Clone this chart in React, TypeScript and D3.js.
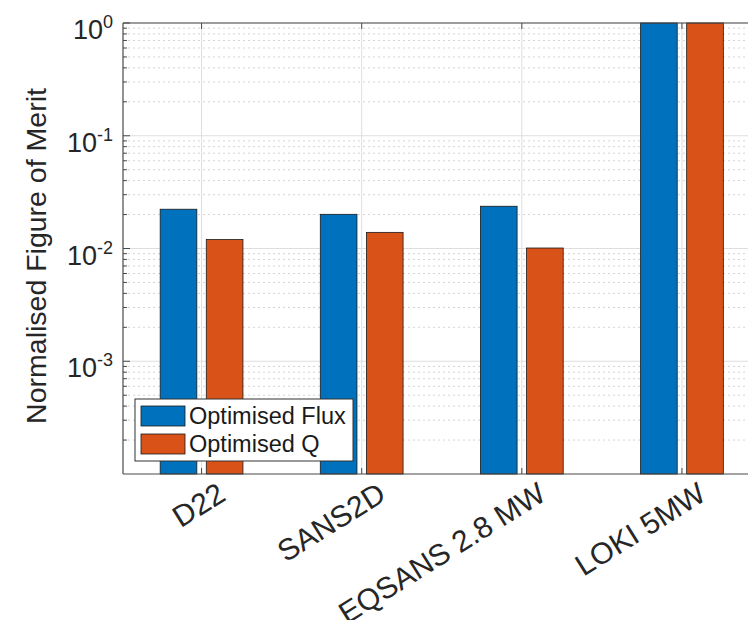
import React from 'react';
import * as d3 from 'd3';

// chart data
const categories = ['D22', 'SANS2D', 'EQSANS 2.8 MW', 'LOKI 5MW'];
const fluxValues = [0.0223, 0.0201, 0.0237, 1.0];
const qValues = [0.012, 0.0139, 0.0101, 1.0];
const seriesNames = ['Optimised Flux', 'Optimised Q'];
const seriesColors = ['#0072BD', '#D95319'];
const yTickExps = [0, -1, -2, -3];

const W = 748;
const H = 620;

const App = () => {
  // plot box
  const left = 123, top = 23, bottom = 474, right = 762;

  const x = d3.scaleLinear().domain([0.5, categories.length + 0.5]).range([left - 1.5, right]);
  const y = d3.scaleLog().domain([1e-4, 1]).range([bottom, top]);

  const barW = 0.229;
  const offset = 0.144;
  const series = [fluxValues, qValues];

  // minor grid values (2..9 of each decade)
  const minor: number[] = [];
  for (let e = -4; e < 0; e++) {
    for (let k = 2; k <= 9; k++) minor.push(k * Math.pow(10, e));
  }

  const axisColor = '#4a4a4a';
  const font = 'Liberation Sans, Arial, Helvetica, sans-serif';

  return (
    <svg width={W} height={H} style={{ position: 'absolute', left: 0, top: 0, background: '#fff' }}
      fontFamily={font}>
      {/* minor grid */}
      {minor.map((v, i) => (
        <line key={'mg' + i} x1={left} x2={W} y1={y(v)} y2={y(v)}
          stroke="#d4d4d4" strokeWidth={1} strokeDasharray="2,3" />
      ))}
      {/* major grid */}
      {yTickExps.map(e => (
        <line key={'g' + e} x1={left} x2={W} y1={y(Math.pow(10, e))} y2={y(Math.pow(10, e))}
          stroke="#dedede" strokeWidth={1} />
      ))}
      {categories.map((c, i) => (
        <line key={'vg' + i} x1={x(i + 1)} x2={x(i + 1)} y1={top} y2={bottom}
          stroke="#dedede" strokeWidth={1} />
      ))}

      {/* bars */}
      {series.map((vals, s) => vals.map((v, i) => {
        const cx = x(i + 1) + (s === 0 ? -1 : 1) * (x(offset) - x(0));
        const bw = x(barW) - x(0);
        return (
          <rect key={'b' + s + i} x={cx - bw / 2} y={y(v)} width={bw} height={bottom - y(v)}
            fill={seriesColors[s]} stroke="#1a1a1a" strokeWidth={0.8} />
        );
      }))}

      {/* axes box */}
      <line x1={left} x2={left} y1={top} y2={bottom} stroke={axisColor} strokeWidth={1.2} />
      <line x1={left} x2={W} y1={bottom} y2={bottom} stroke={axisColor} strokeWidth={1.2} />
      <line x1={left} x2={W} y1={top} y2={top} stroke={axisColor} strokeWidth={1.2} />

      {/* y ticks */}
      {yTickExps.map(e => (
        <line key={'yt' + e} x1={left} x2={left + 7} y1={y(Math.pow(10, e))} y2={y(Math.pow(10, e))}
          stroke={axisColor} strokeWidth={1} />
      ))}
      {minor.map((v, i) => (
        <line key={'ymt' + i} x1={left} x2={left + 4} y1={y(v)} y2={y(v)}
          stroke={axisColor} strokeWidth={1} />
      ))}
      {/* x ticks top and bottom */}
      {categories.map((c, i) => (
        <g key={'xt' + i}>
          <line x1={x(i + 1)} x2={x(i + 1)} y1={bottom} y2={bottom - 6} stroke={axisColor} strokeWidth={1} />
          <line x1={x(i + 1)} x2={x(i + 1)} y1={top} y2={top + 6} stroke={axisColor} strokeWidth={1} />
        </g>
      ))}

      {/* y tick labels */}
      {yTickExps.map(e => (
        <text key={'yl' + e} x={113} y={y(Math.pow(10, e)) + 16} textAnchor="end"
          fontSize={27} fill="#262626">
          10<tspan dy={-11} fontSize={18}>{String(e)}</tspan>
        </text>
      ))}

      {/* x tick labels (EQSANS runs off the bottom edge, as in the original) */}
      {categories.map((c, i) => (
        <text key={'xl' + i} transform={`translate(${x(i + 1) + 14},${bottom + 6}) rotate(-32)`}
          textAnchor="end" fontSize={30} fill="#262626" dy="0.75em">
          {c}
        </text>
      ))}

      {/* y label */}
      <text transform={`translate(46,256) rotate(-90)`} textAnchor="middle" fontSize={28.5} fill="#262626">
        Normalised Figure of Merit
      </text>

      {/* legend */}
      <rect x={135} y={399} width={218} height={62} fill="#fff" stroke="#333" strokeWidth={1} />
      {seriesNames.map((n, s) => (
        <g key={'lg' + s}>
          <rect x={141} y={406 + s * 28} width={44} height={20} fill={seriesColors[s]}
            stroke="#1a1a1a" strokeWidth={0.8} />
          <text x={189} y={424 + s * 28} fontSize={23.5} fill="#1a1a1a">{n}</text>
        </g>
      ))}
    </svg>
  );
};

export default App;
